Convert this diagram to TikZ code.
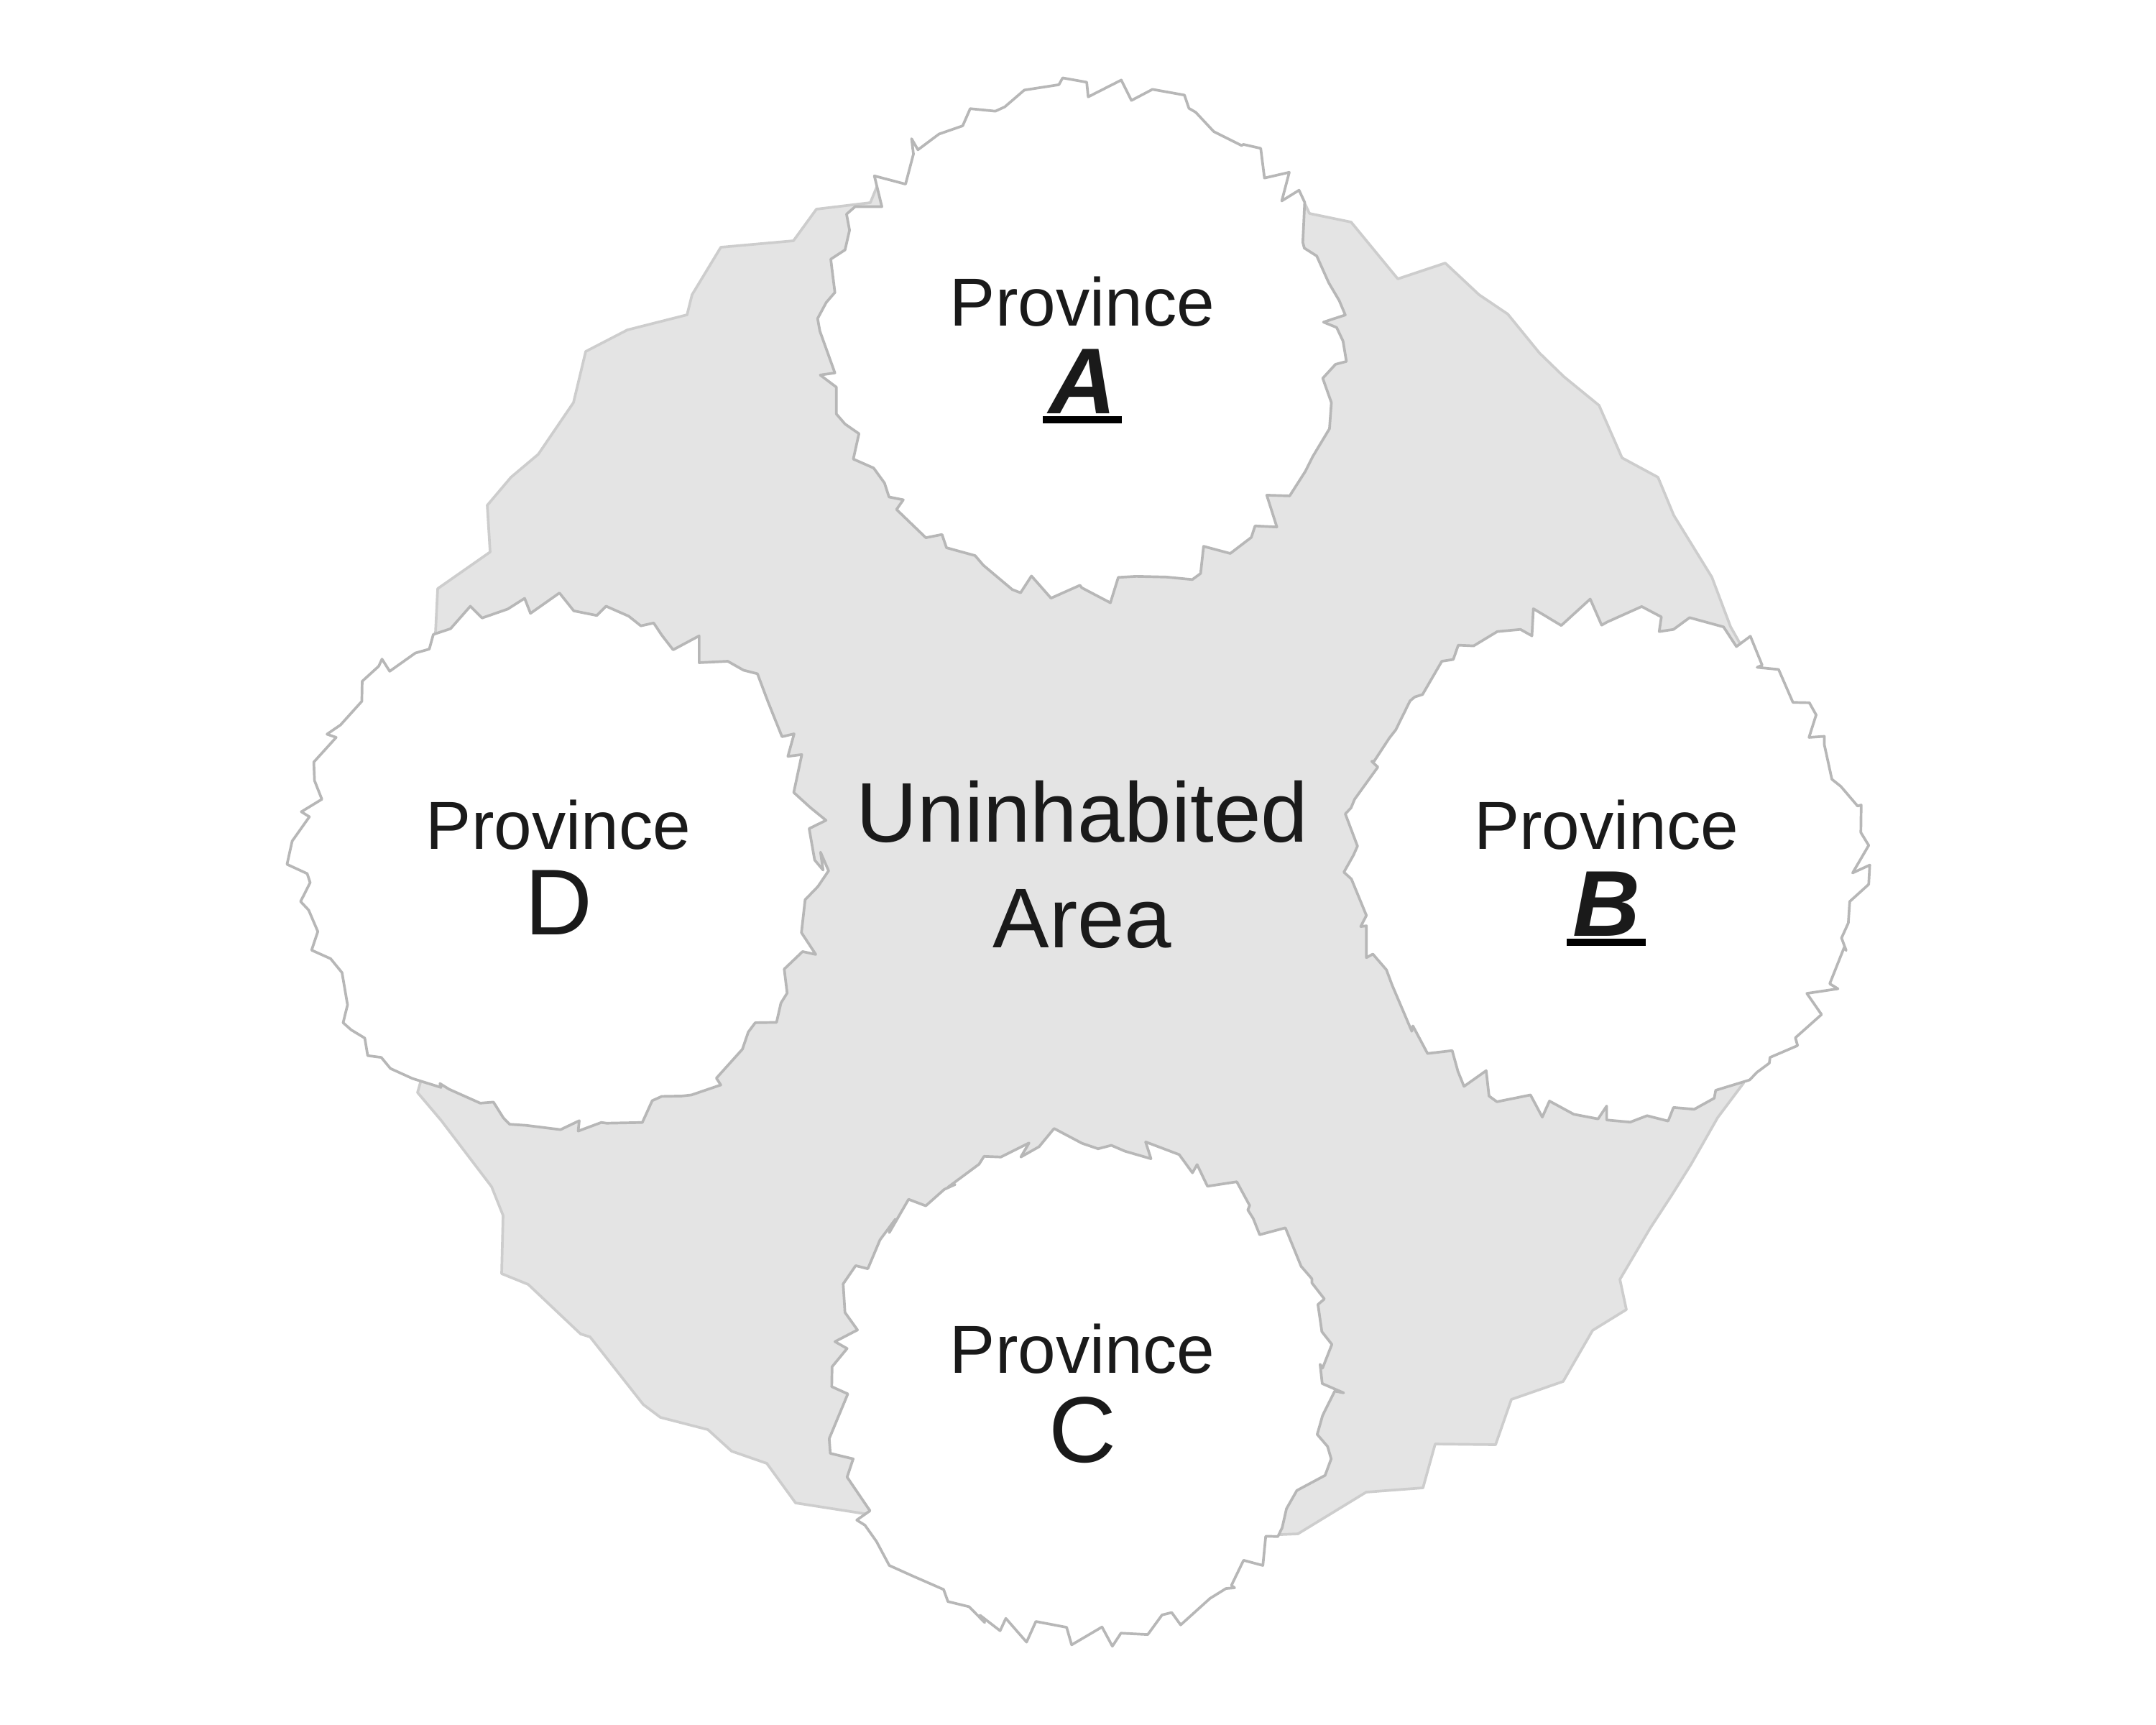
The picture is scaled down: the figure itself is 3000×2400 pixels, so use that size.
\documentclass[tikz,border=0pt]{standalone}
\usepackage{fontspec}
\setmainfont{Liberation Sans}
\definecolor{ppInk}{HTML}{1A1A1A}
\definecolor{ppEdge}{HTML}{B7B7B7}
\definecolor{ppRim}{HTML}{CDCDCD}
\definecolor{ppWaste}{HTML}{E4E4E4}

\begin{document}
\begin{tikzpicture}[
  x=0.01cm,y=-0.01cm,
  every node/.style={text=ppInk,inner sep=0pt},
  waste/.style={draw=ppRim,fill=ppWaste,line width=1.05pt,line join=round},
  zone/.style={draw=ppEdge,fill=white,line width=1.05pt,line join=round},
  provname/.style={anchor=base,font=\fontsize{26.9}{30}\selectfont},
  provmark/.style={anchor=base,minimum width=1.08cm,font=\fontsize{37}{40}\selectfont},
  capital/.style={provmark,font=\fontsize{37}{40}\selectfont\bfseries\itshape},
  rulebar/.style={draw=black,line width=1.05mm}
]
  \useasboundingbox (0,0) rectangle (3000,2400);

  % uninhabited ground
  \draw[waste] (1220,260) -- (1211,282) -- (1136,291) -- (1104,335) -- (1003,344) -- (963,410)
    -- (956,438) -- (873,459) -- (815,489) -- (798,560) -- (749,632) -- (711,664) -- (678,703)
    -- (682,768) -- (609,819) -- (606,880) -- (585,1506) -- (581,1520) -- (614,1559) -- (684,1651)
    -- (700,1691) -- (698,1772) -- (735,1787) -- (808,1856) -- (821,1860) -- (895,1954) -- (919,1972)
    -- (985,1989) -- (1018,2019) -- (1067,2036) -- (1107,2091) -- (1203,2106) -- (1782,2135)
    -- (1806,2134) -- (1901,2076) -- (1980,2070) -- (1997,2009) -- (2081,2010) -- (2103,1947)
    -- (2175,1922) -- (2216,1851) -- (2263,1822) -- (2254,1780) -- (2296,1709) -- (2326,1663)
    -- (2353,1620) -- (2390,1555) -- (2426,1507) -- (2421,895) -- (2408,872) -- (2382,803)
    -- (2329,717) -- (2307,664) -- (2257,637) -- (2225,564) -- (2176,524) -- (2142,491)
    -- (2098,437) -- (2058,410) -- (2011,366) -- (1945,388) -- (1880,309) -- (1822,297)
    -- (1816,284) -- cycle;

  % province A
  \begin{scope}[shift={(1100,90)},xscale=0.52296,yscale=0.49745]
    \draw[zone] (724,37) -- (788,49) -- (792,90) -- (880,43) -- (907,100) -- (963,69) -- (1048,85)
      -- (1060,122) -- (1078,133) -- (1126,187) -- (1200,226) -- (1205,223) -- (1251,234) -- (1261,317)
      -- (1327,301) -- (1307,381) -- (1353,351) -- (1368,385) -- (1363,497) -- (1367,513) -- (1400,535)
      -- (1432,610) -- (1460,660) -- (1476,700) -- (1418,720) -- (1453,735) -- (1470,773) -- (1479,830)
      -- (1450,838) -- (1416,877) -- (1439,945) -- (1434,1018) -- (1390,1095) -- (1370,1137) -- (1328,1206)
      -- (1267,1204) -- (1294,1293) -- (1236,1290) -- (1226,1322) -- (1170,1367) -- (1099,1347) -- (1091,1423)
      -- (1069,1440) -- (1000,1433) -- (920,1431) -- (872,1434) -- (851,1505) -- (775,1463) -- (770,1456)
      -- (693,1492) -- (641,1430) -- (612,1477) -- (590,1468) -- (513,1400) -- (491,1373) -- (415,1351)
      -- (403,1314) -- (360,1323) -- (282,1244) -- (300,1217) -- (262,1209) -- (250,1170) -- (221,1128)
      -- (167,1103) -- (182,1032) -- (145,1005) -- (122,977) -- (122,902) -- (79,868) -- (118,862)
      -- (78,745) -- (72,710) -- (95,665) -- (118,637) -- (107,544) -- (145,518) -- (157,463)
      -- (149,418) -- (172,397) -- (243,397) -- (223,311) -- (306,334) -- (327,250) -- (322,207)
      -- (339,238) -- (395,194) -- (458,171) -- (478,123) -- (545,130) -- (570,118) -- (622,71)
      -- (714,56) -- cycle;
  \end{scope}

  % province D
  \begin{scope}[shift={(380,820)},xscale=0.51020,yscale=0.49745]
    \draw[zone] (781,10) -- (820,60) -- (883,73) -- (908,47) -- (970,75) -- (1003,102) -- (1038,94)
      -- (1060,128) -- (1091,169) -- (1162,130) -- (1162,205) -- (1240,201) -- (1283,226) -- (1321,236)
      -- (1350,315) -- (1388,412) -- (1421,404) -- (1404,467) -- (1442,462) -- (1420,568) -- (1465,610)
      -- (1508,646) -- (1462,669) -- (1477,757) -- (1500,785) -- (1493,735) -- (1515,787) -- (1486,831)
      -- (1451,868) -- (1441,960) -- (1480,1021) -- (1444,1013) -- (1394,1062) -- (1402,1129) -- (1385,1157)
      -- (1373,1211) -- (1315,1212) -- (1296,1238) -- (1280,1286) -- (1209,1367) -- (1221,1386) -- (1141,1414)
      -- (1115,1417) -- (1060,1418) -- (1034,1430) -- (1007,1491) -- (910,1493) -- (895,1491) -- (832,1515)
      -- (835,1486) -- (784,1511) -- (690,1499) -- (645,1496) -- (628,1478) -- (601,1434) -- (565,1437)
      -- (480,1398) -- (455,1382) -- (458,1393) -- (380,1368) -- (320,1340) -- (295,1309) -- (258,1304)
      -- (250,1255) -- (213,1232) -- (191,1212) -- (203,1162) -- (188,1072) -- (157,1033) -- (105,1009)
      -- (122,957) -- (97,897) -- (75,873) -- (101,820) -- (93,795) -- (38,769) -- (52,704)
      -- (99,636) -- (77,622) -- (133,587) -- (113,535) -- (111,483) -- (172,414) -- (147,405)
      -- (184,379) -- (242,313) -- (243,257) -- (288,215) -- (297,195) -- (318,229) -- (388,178)
      -- (426,167) -- (437,126) -- (484,110) -- (538,47) -- (570,80) -- (640,55) -- (686,25)
      -- (702,67) -- cycle;
  \end{scope}

  % province B
  \begin{scope}[shift={(1860,820)},xscale=0.49745,yscale=0.49745]
    \draw[zone] (709,27) -- (741,100) -- (757,91) -- (853,48) -- (908,77) -- (902,118) -- (942,112)
      -- (987,79) -- (1082,105) -- (1118,160) -- (1157,131) -- (1190,212) -- (1176,218) -- (1236,224)
      -- (1276,316) -- (1322,317) -- (1341,351) -- (1321,414) -- (1364,411) -- (1364,435) -- (1385,531)
      -- (1410,551) -- (1457,606) -- (1467,603) -- (1466,680) -- (1488,716) -- (1443,793) -- (1491,771)
      -- (1488,825) -- (1435,873) -- (1431,933) -- (1412,975) -- (1425,1010) -- (1420,1000) -- (1379,1103)
      -- (1402,1117) -- (1315,1130) -- (1356,1189) -- (1283,1254) -- (1289,1276) -- (1212,1309) -- (1210,1325)
      -- (1175,1351) -- (1155,1372) -- (1060,1401) -- (1056,1423) -- (1000,1454) -- (942,1449) -- (927,1487)
      -- (868,1472) -- (821,1490) -- (755,1484) -- (755,1445) -- (731,1481) -- (663,1468) -- (595,1431)
      -- (575,1476) -- (542,1414) -- (448,1433) -- (426,1417) -- (418,1346) -- (356,1390) -- (339,1348)
      -- (323,1290) -- (254,1298) -- (213,1221) -- (210,1236) -- (155,1107) -- (139,1064) -- (101,1020)
      -- (83,1030) -- (83,941) -- (67,943) -- (83,912) -- (41,810) -- (20,791) -- (47,743)
      -- (58,718) -- (24,628) -- (40,611) -- (50,587) -- (115,497) -- (98,481) -- (105,480)
      -- (147,416) -- (165,393) -- (205,312) -- (218,301) -- (240,294) -- (294,201) -- (326,196)
      -- (340,156) -- (383,158) -- (449,118) -- (514,112) -- (546,130) -- (550,54) -- (628,101) -- cycle;
  \end{scope}

  % province C
  \begin{scope}[shift={(1120,1560)},xscale=0.49745,yscale=0.47832]
    \draw[zone] (697,21) -- (775,64) -- (820,80) -- (857,70) -- (895,87) -- (968,109) -- (953,60)
      -- (1047,97) -- (1084,150) -- (1097,126) -- (1126,189) -- (1208,176) -- (1244,245) -- (1239,258)
      -- (1254,283) -- (1272,330) -- (1344,310) -- (1388,422) -- (1418,458) -- (1418,470) -- (1453,517)
      -- (1435,533) -- (1446,612) -- (1474,649) -- (1448,718) -- (1441,707) -- (1447,763) -- (1507,790)
      -- (1482,785) -- (1448,856) -- (1433,911) -- (1462,946) -- (1472,982) -- (1455,1030) -- (1376,1074)
      -- (1347,1127) -- (1335,1182) -- (1323,1208) -- (1289,1207) -- (1281,1292) -- (1227,1277) -- (1193,1350)
      -- (1202,1357) -- (1178,1359) -- (1133,1388) -- (1051,1465) -- (1026,1429) -- (999,1436) -- (959,1493)
      -- (884,1489) -- (860,1527) -- (831,1471) -- (746,1523) -- (732,1472) -- (646,1455) -- (620,1515)
      -- (562,1446) -- (546,1482) -- (490,1437) -- (503,1458) -- (459,1412) -- (400,1397) -- (388,1362)
      -- (300,1322) -- (236,1292) -- (200,1222) -- (168,1175) -- (145,1160) -- (182,1133) -- (118,1035)
      -- (135,982) -- (71,966) -- (68,923) -- (120,793) -- (75,772) -- (76,714) -- (118,661)
      -- (84,641) -- (147,607) -- (112,556) -- (107,473) -- (142,420) -- (176,429) -- (210,345)
      -- (253,285) -- (236,324) -- (290,227) -- (338,246) -- (390,198) -- (420,184) -- (400,192)
      -- (487,125) -- (501,102) -- (548,104) -- (627,63) -- (604,104) -- (655,74) -- cycle;
  \end{scope}

  % labels
  \node[provname] (nameA) at (1506,453) {Province};
  \node[capital] (markA) at (1506,575) {A};
  \node[provname] (nameB) at (2235,1181) {Province};
  \node[capital] (markB) at (2235,1302) {B};
  \node[provname] (nameC) at (1506,1910) {Province};
  \node[provmark] (markC) at (1506,2034) {C};
  \node[provname] (nameD) at (777,1181) {Province};
  \node[provmark] (markD) at (777,1300) {D};
  \node[align=center,font=\fontsize{33.5}{41.8}\selectfont] (wasteName) at (1506,1203) {Uninhabited\\Area};

  \draw[rulebar] ([yshift=-0.09cm]markA.base west) -- ([yshift=-0.09cm]markA.base east);
  \draw[rulebar] ([yshift=-0.09cm]markB.base west) -- ([yshift=-0.09cm]markB.base east);
\end{tikzpicture}
\end{document}
